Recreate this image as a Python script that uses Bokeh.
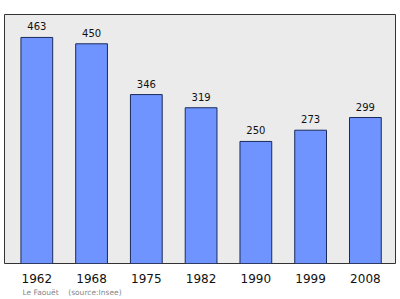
from bokeh.plotting import figure
from bokeh.models import Range1d, FixedTicker, Title, ColumnDataSource
from bokeh.core.properties import value
from bokeh.embed import file_html
from bokeh.resources import INLINE

years = ["1962", "1968", "1975", "1982", "1990", "1999", "2008"]
population = [463, 450, 346, 319, 250, 273, 299]
caption = "Le Faouët\u00a0\u00a0\u00a0\u00a0(source:Insee)"

xs = list(range(len(years)))
src = ColumnDataSource(dict(x=xs, y=population, lbl=[str(v) for v in population]))

p = figure(width=400, height=299, output_backend="svg", toolbar_location=None,
           x_range=Range1d(-0.59, 6.55), y_range=Range1d(0, 510),
           min_border_left=4, min_border_right=5, min_border_top=14, min_border_bottom=36)
p.background_fill_color = "#ebebeb"
p.border_fill_color = "white"
p.outline_line_color = "#333333"
p.outline_line_width = 1
p.xgrid.visible = False
p.ygrid.visible = False
p.yaxis.visible = False

p.vbar(x="x", top="y", width=0.58, source=src, fill_color="#7094ff",
       line_color="#1a2a5a", line_width=1)
p.text(x="x", y="y", text="lbl", source=src, text_align="center", text_baseline="bottom",
       y_offset=-7, text_font_size="10px", text_color="#111111", text_font=value("DejaVu Sans"))

ax = p.xaxis[0]
ax.ticker = FixedTicker(ticks=xs)
ax.major_label_overrides = {i: y for i, y in enumerate(years)}
ax.axis_line_color = None
ax.major_tick_line_color = None
ax.minor_tick_line_color = None
ax.major_label_text_font_size = "12px"
ax.major_label_text_font = "DejaVu Sans"
ax.major_label_text_color = "#111111"
ax.major_label_standoff = 4

t = Title(text=caption, align="left", text_font_size="7.5px", text_font_style="normal",
          text_color="#888888", text_font="DejaVu Sans", offset=18, standoff=1)
p.add_layout(t, "below")

open("out.html", "w").write(file_html(p, INLINE))
